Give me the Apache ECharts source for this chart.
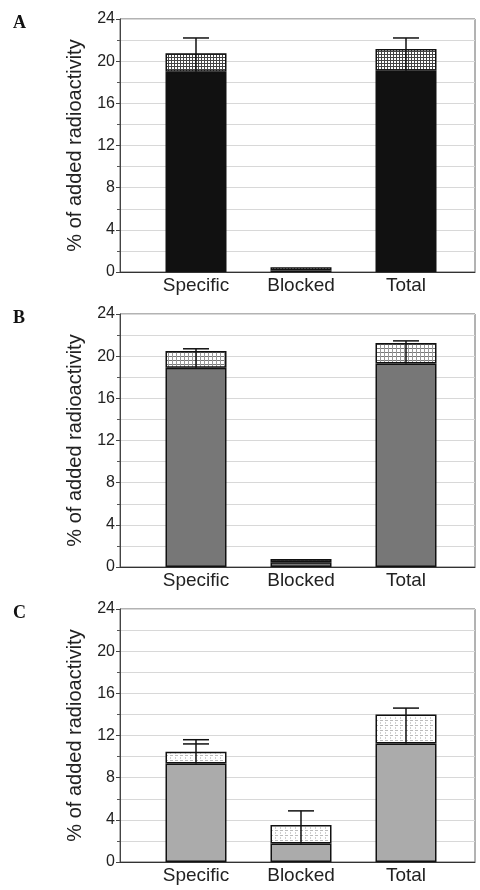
<!DOCTYPE html>
<html>
<head>
<meta charset="utf-8">
<script src="https://cdn.jsdelivr.net/npm/echarts@6/dist/echarts.min.js"></script>
<style>
html,body{margin:0;padding:0;background:#fff;}
#chart{width:480px;height:890px;}
</style>
</head>
<body>
<div id="chart"></div>
<script>
// ---- data ----
const categories = ['Specific', 'Blocked', 'Total'];
const yTicks = [0, 4, 8, 12, 16, 20, 24];
const panelLabels = ['A', 'B', 'C'];

// Panel A
const baseA  = [19.0, 0.15, 19.1];
const upperA = [1.75, 0.30, 2.05];
const errA   = [22.2, null, 22.2];
const err2A  = [null, null, null];
// Panel B
const baseB  = [18.9, 0.45, 19.3];
const upperB = [1.6, 0.30, 1.95];
const errB   = [20.7, null, 21.45];
const err2B  = [null, null, null];
// Panel C
const baseC  = [9.35, 1.75, 11.25];
const upperC = [1.1, 1.75, 2.75];
const errC   = [11.6, 4.85, 14.6];
const err2C  = [11.2, null, null];

const panels = [
  {base: baseA, upper: upperA, err: errA, err2: err2A, color: '#111111', pat: 'mesh'},
  {base: baseB, upper: upperB, err: errB, err2: err2B, color: '#777777', pat: 'mid'},
  {base: baseC, upper: upperC, err: errC, err2: err2C, color: '#ababab', pat: 'light'}
];

function makePattern(kind) {
  const c = document.createElement('canvas');
  let s = kind === 'mesh' ? 3 : (kind === 'mid' ? 4 : 5);
  c.width = s; c.height = s;
  const g = c.getContext('2d');
  g.fillStyle = '#ffffff';
  g.fillRect(0, 0, s, s);
  if (kind === 'mesh') {
    g.fillStyle = '#444';
    g.fillRect(0, 0, s, 1);
    g.fillRect(0, 0, 1, s);
  } else if (kind === 'mid') {
    g.fillStyle = '#777';
    g.fillRect(0, 0, s, 1);
    g.fillStyle = '#999';
    g.fillRect(0, 0, 1, s);
  } else {
    g.fillStyle = '#bbb';
    g.fillRect(0, 0, 3, 1);
    g.fillStyle = '#d0d0d0';
    g.fillRect(0, 2, 1, 2);
  }
  return c;
}

const tops = [19, 314, 609];
const plotH = 253;
const FONT = 'Liberation Sans, Arial';

const grids = [], xAxes = [], yAxes = [], series = [], titles = [];
panels.forEach((p, k) => {
  const fi = 2 * k, bi = 2 * k + 1;
  // frame grid (axes, gridlines, border)
  grids.push({left: 120, right: 5, top: tops[k], height: plotH, show: true,
    borderColor: '#666', borderWidth: 1, backgroundColor: 'transparent'});
  // bar grid (category band)
  grids.push({left: 143.5, right: 21.5, top: tops[k], height: plotH});

  xAxes.push({type: 'value', gridIndex: fi, min: 0, max: 1,
    axisLine: {show: true, onZero: false, lineStyle: {color: '#333', width: 1}},
    axisTick: {show: false}, axisLabel: {show: false}, splitLine: {show: false}});
  yAxes.push({type: 'value', gridIndex: fi, min: 0, max: 24, interval: 4,
    name: '% of added radioactivity', nameLocation: 'middle', nameGap: 35,
    nameTextStyle: {fontFamily: FONT, fontSize: 20, color: '#222'},
    axisLine: {show: true, lineStyle: {color: '#444', width: 1}},
    axisTick: {show: true, length: 4, lineStyle: {color: '#444'}},
    minorTick: {show: true, splitNumber: 2, length: 3, lineStyle: {color: '#555'}},
    splitLine: {show: true, lineStyle: {color: '#d8d8d8', width: 1}},
    minorSplitLine: {show: true, lineStyle: {color: '#d8d8d8', width: 1}},
    axisLabel: {fontFamily: FONT, fontSize: 16, color: '#222', margin: 5, customValues: yTicks}
  });

  xAxes.push({type: 'category', gridIndex: bi, data: categories,
    axisLine: {show: false}, axisTick: {show: false}, splitLine: {show: false},
    axisLabel: {fontFamily: FONT, fontSize: 19, color: '#222', margin: 4}});
  yAxes.push({type: 'value', gridIndex: bi, min: 0, max: 24, interval: 4, show: false});

  series.push({type: 'bar', xAxisIndex: bi, yAxisIndex: bi, stack: 's' + k, barWidth: 61,
    data: p.base,
    itemStyle: {color: p.color, borderColor: '#111', borderWidth: 1.5}, z: 2});
  series.push({type: 'bar', xAxisIndex: bi, yAxisIndex: bi, stack: 's' + k, barWidth: 61,
    data: p.upper,
    itemStyle: {color: {image: makePattern(p.pat), repeat: 'repeat'}, borderColor: '#111', borderWidth: 1.5}, z: 2});
  const errData = [];
  categories.forEach((c, i) => {
    if (p.err[i] != null) errData.push([i, p.base[i], p.err[i], p.err2[i] == null ? NaN : p.err2[i]]);
  });
  series.push({type: 'custom', xAxisIndex: bi, yAxisIndex: bi, z: 5,
    data: errData,
    renderItem: function (params, api) {
      const x = api.value(0);
      const lo = api.coord([x, api.value(1)]);
      const hi = api.coord([x, api.value(2)]);
      const hw = 13;
      const st = {stroke: '#111', lineWidth: 1.5};
      const children = [
        {type: 'line', shape: {x1: lo[0], y1: lo[1], x2: hi[0], y2: hi[1]}, style: st},
        {type: 'line', shape: {x1: hi[0] - hw, y1: hi[1], x2: hi[0] + hw, y2: hi[1]}, style: st}
      ];
      const v3 = api.value(3);
      if (!isNaN(v3)) {
        const h2 = api.coord([x, v3]);
        children.push({type: 'line', shape: {x1: h2[0] - hw, y1: h2[1], x2: h2[0] + hw, y2: h2[1]}, style: st});
      }
      return {type: 'group', children: children};
    }
  });
  titles.push({text: panelLabels[k], left: 8, top: tops[k] - 10,
    textStyle: {fontFamily: 'Liberation Serif, Times New Roman', fontWeight: 'bold', fontSize: 18, color: '#111'}});
});

const chart = echarts.init(document.getElementById('chart'), null, {renderer: 'canvas'});
chart.setOption({
  animation: false,
  backgroundColor: '#ffffff',
  title: titles,
  grid: grids,
  xAxis: xAxes,
  yAxis: yAxes,
  series: series
});
</script>
</body>
</html>
